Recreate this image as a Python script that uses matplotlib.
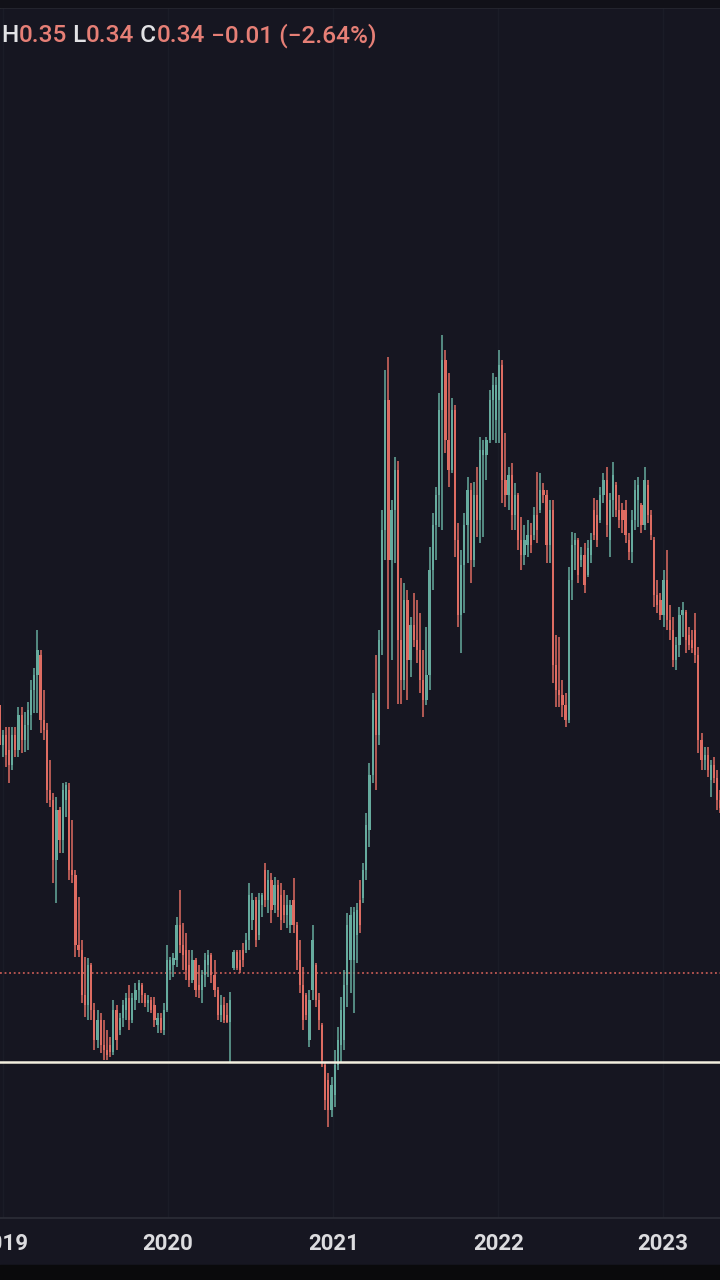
import matplotlib
matplotlib.use("Agg")
import matplotlib.pyplot as plt
import matplotlib.dates as mdates
import numpy as np
import pandas as pd

# ---------------- data (weekly OHLC) ----------------
start_week = "2018-12-24"

opens = [
    0.743, 0.683, 0.698, 0.675, 0.653, 0.698, 0.675, 0.728, 0.690, 0.713,
    0.728, 0.765, 0.788, 0.818, 0.720, 0.705, 0.615, 0.600, 0.510, 0.585,
    0.540, 0.600, 0.615, 0.495, 0.488, 0.383, 0.375, 0.308, 0.293, 0.353,
    0.285, 0.240, 0.270, 0.233, 0.225, 0.233, 0.222, 0.285, 0.255, 0.273,
    0.285, 0.303, 0.270, 0.300, 0.315, 0.323, 0.308, 0.296, 0.300, 0.293,
    0.263, 0.273, 0.255, 0.285, 0.345, 0.353, 0.360, 0.413, 0.383, 0.375,
    0.353, 0.330, 0.360, 0.323, 0.315, 0.338, 0.353, 0.368, 0.338, 0.315,
    0.278, 0.293, 0.278, 0.267, 0.348, 0.372, 0.360, 0.375, 0.375, 0.390,
    0.420, 0.450, 0.398, 0.443, 0.495, 0.450, 0.480, 0.443, 0.473, 0.458,
    0.443, 0.428, 0.413, 0.450, 0.413, 0.360, 0.323, 0.308, 0.240, 0.315,
    0.353, 0.300, 0.263, 0.203, 0.180, 0.135, 0.158, 0.203, 0.233, 0.240,
    0.323, 0.360, 0.360, 0.398, 0.450, 0.453, 0.495, 0.555, 0.638, 0.750,
    0.698, 0.840, 1.005, 1.200, 0.960, 1.035, 1.095, 0.840, 0.780, 0.900,
    0.810, 0.863, 0.840, 0.825, 0.780, 0.750, 0.788, 0.945, 1.013, 1.058,
    1.185, 1.260, 1.140, 1.095, 1.185, 0.990, 0.878, 0.953, 1.013, 1.065,
    0.960, 1.058, 1.020, 1.118, 1.118, 1.140, 1.200, 1.170, 1.200, 1.253,
    1.080, 1.058, 1.088, 1.028, 1.058, 0.990, 0.968, 0.983, 0.998, 0.998,
    1.028, 1.035, 1.065, 1.058, 0.983, 1.035, 0.803, 0.765, 0.758, 0.743,
    0.720, 0.930, 0.983, 0.990, 0.960, 0.968, 0.938, 0.968, 1.035, 1.028,
    1.020, 1.058, 1.080, 0.990, 1.050, 1.073, 1.035, 1.035, 1.035, 0.990,
    0.972, 1.020, 1.050, 1.043, 1.013, 1.073, 1.028, 0.990, 0.908, 0.900,
    0.878, 0.930, 0.870, 0.855, 0.810, 0.833, 0.878, 0.882, 0.848, 0.840,
    0.855, 0.818, 0.690, 0.660, 0.668, 0.630, 0.653, 0.633, 0.600,
]

highs = [
    0.750, 0.705, 0.710, 0.710, 0.710, 0.710, 0.740, 0.740, 0.732, 0.747,
    0.780, 0.798, 0.855, 0.825, 0.765, 0.716, 0.660, 0.611, 0.605, 0.590,
    0.626, 0.627, 0.626, 0.570, 0.495, 0.455, 0.390, 0.365, 0.363, 0.356,
    0.296, 0.285, 0.281, 0.270, 0.255, 0.245, 0.300, 0.293, 0.281, 0.300,
    0.311, 0.323, 0.311, 0.326, 0.330, 0.326, 0.311, 0.308, 0.305, 0.305,
    0.281, 0.281, 0.296, 0.383, 0.365, 0.371, 0.425, 0.465, 0.416, 0.401,
    0.375, 0.375, 0.363, 0.353, 0.345, 0.371, 0.375, 0.371, 0.360, 0.320,
    0.308, 0.305, 0.296, 0.312, 0.375, 0.375, 0.375, 0.386, 0.401, 0.476,
    0.461, 0.455, 0.461, 0.461, 0.506, 0.495, 0.491, 0.485, 0.480, 0.476,
    0.465, 0.458, 0.450, 0.483, 0.417, 0.390, 0.350, 0.311, 0.315, 0.413,
    0.356, 0.311, 0.266, 0.206, 0.191, 0.185, 0.225, 0.260, 0.305, 0.345,
    0.431, 0.440, 0.440, 0.446, 0.480, 0.506, 0.581, 0.656, 0.761, 0.818,
    0.855, 1.035, 1.245, 1.265, 1.050, 1.115, 1.109, 0.933, 0.926, 0.915,
    0.875, 0.911, 0.900, 0.881, 0.825, 0.860, 0.980, 1.031, 1.070, 1.211,
    1.298, 1.275, 1.241, 1.203, 1.193, 1.016, 0.975, 1.031, 1.085, 1.076,
    1.077, 1.100, 1.145, 1.140, 1.145, 1.215, 1.241, 1.235, 1.275, 1.260,
    1.151, 1.100, 1.106, 1.076, 1.061, 1.025, 1.013, 1.020, 1.016, 1.040,
    1.092, 1.091, 1.076, 1.065, 1.050, 1.050, 0.848, 0.845, 0.780, 0.761,
    0.950, 1.002, 1.001, 0.993, 0.980, 0.986, 0.990, 1.001, 1.053, 1.050,
    1.070, 1.091, 1.100, 1.061, 1.107, 1.077, 1.058, 1.046, 1.050, 1.001,
    1.035, 1.080, 1.085, 1.046, 1.100, 1.080, 1.035, 0.995, 0.930, 0.911,
    0.945, 0.975, 0.893, 0.875, 0.845, 0.890, 0.897, 0.885, 0.860, 0.855,
    0.881, 0.830, 0.701, 0.680, 0.680, 0.660, 0.665, 0.645, 0.615,
]

lows = [
    0.660, 0.665, 0.650, 0.626, 0.645, 0.665, 0.665, 0.671, 0.672, 0.675,
    0.705, 0.731, 0.731, 0.701, 0.690, 0.596, 0.590, 0.476, 0.446, 0.521,
    0.521, 0.575, 0.480, 0.476, 0.365, 0.365, 0.296, 0.275, 0.270, 0.270,
    0.225, 0.228, 0.221, 0.210, 0.210, 0.215, 0.218, 0.225, 0.248, 0.260,
    0.270, 0.255, 0.266, 0.285, 0.296, 0.296, 0.290, 0.282, 0.281, 0.260,
    0.251, 0.251, 0.248, 0.282, 0.330, 0.335, 0.350, 0.371, 0.345, 0.330,
    0.320, 0.326, 0.305, 0.303, 0.296, 0.320, 0.335, 0.326, 0.305, 0.270,
    0.267, 0.266, 0.266, 0.206, 0.345, 0.345, 0.341, 0.350, 0.371, 0.375,
    0.405, 0.380, 0.390, 0.425, 0.440, 0.431, 0.416, 0.431, 0.425, 0.405,
    0.416, 0.408, 0.401, 0.401, 0.345, 0.311, 0.255, 0.270, 0.230, 0.300,
    0.290, 0.255, 0.200, 0.135, 0.110, 0.125, 0.140, 0.195, 0.206, 0.225,
    0.290, 0.311, 0.281, 0.356, 0.401, 0.446, 0.480, 0.530, 0.626, 0.615,
    0.683, 0.818, 0.960, 0.737, 0.810, 0.956, 0.744, 0.744, 0.765, 0.750,
    0.785, 0.830, 0.806, 0.761, 0.725, 0.743, 0.765, 0.915, 0.960, 1.010,
    1.005, 1.121, 1.070, 1.091, 0.965, 0.860, 0.821, 0.881, 0.956, 0.926,
    0.950, 0.995, 0.986, 0.995, 1.080, 1.136, 1.140, 1.136, 1.136, 1.046,
    1.040, 1.035, 1.005, 1.005, 0.975, 0.945, 0.953, 0.965, 0.971, 0.990,
    0.986, 1.031, 1.046, 0.956, 0.956, 0.776, 0.740, 0.740, 0.725, 0.710,
    0.716, 0.900, 0.945, 0.926, 0.950, 0.911, 0.935, 0.956, 0.990, 0.980,
    1.016, 1.046, 0.995, 0.965, 1.025, 1.025, 1.008, 1.001, 0.986, 0.960,
    0.956, 1.005, 1.010, 1.001, 1.005, 1.016, 0.990, 0.890, 0.881, 0.870,
    0.860, 0.855, 0.840, 0.800, 0.795, 0.815, 0.845, 0.821, 0.825, 0.821,
    0.806, 0.671, 0.645, 0.645, 0.635, 0.605, 0.626, 0.585, 0.581,
]

closes = [
    0.683, 0.698, 0.668, 0.653, 0.698, 0.675, 0.728, 0.690, 0.713, 0.735,
    0.765, 0.788, 0.825, 0.720, 0.705, 0.615, 0.600, 0.510, 0.585, 0.540,
    0.615, 0.623, 0.495, 0.488, 0.383, 0.375, 0.308, 0.293, 0.353, 0.285,
    0.240, 0.270, 0.233, 0.225, 0.218, 0.222, 0.285, 0.240, 0.273, 0.293,
    0.303, 0.270, 0.303, 0.315, 0.326, 0.308, 0.296, 0.300, 0.285, 0.270,
    0.273, 0.255, 0.285, 0.360, 0.360, 0.363, 0.413, 0.383, 0.368, 0.345,
    0.330, 0.360, 0.315, 0.315, 0.338, 0.360, 0.368, 0.338, 0.315, 0.278,
    0.293, 0.270, 0.267, 0.300, 0.372, 0.348, 0.345, 0.360, 0.390, 0.458,
    0.450, 0.390, 0.450, 0.458, 0.450, 0.480, 0.435, 0.473, 0.435, 0.420,
    0.428, 0.443, 0.443, 0.413, 0.360, 0.323, 0.270, 0.278, 0.300, 0.390,
    0.300, 0.270, 0.210, 0.150, 0.135, 0.173, 0.203, 0.240, 0.285, 0.323,
    0.413, 0.428, 0.432, 0.435, 0.413, 0.495, 0.563, 0.638, 0.750, 0.698,
    0.840, 1.005, 1.200, 0.960, 1.035, 1.095, 0.840, 0.780, 0.900, 0.810,
    0.863, 0.840, 0.825, 0.780, 0.750, 0.788, 0.945, 1.013, 1.058, 1.185,
    1.260, 1.140, 1.095, 1.185, 0.990, 0.878, 0.953, 1.013, 1.065, 0.960,
    1.058, 1.020, 1.125, 1.125, 1.140, 1.200, 1.223, 1.223, 1.253, 1.080,
    1.058, 1.088, 1.028, 1.058, 0.990, 0.968, 0.990, 0.998, 0.983, 1.028,
    1.005, 1.065, 1.058, 0.983, 1.035, 0.803, 0.765, 0.758, 0.743, 0.720,
    0.930, 0.983, 0.990, 0.938, 0.968, 0.923, 0.978, 0.990, 0.998, 0.990,
    1.058, 1.080, 1.013, 1.050, 1.088, 1.035, 1.020, 1.020, 0.998, 0.972,
    1.020, 1.065, 1.073, 1.013, 1.080, 1.028, 0.998, 0.908, 0.893, 0.878,
    0.930, 0.870, 0.855, 0.810, 0.833, 0.878, 0.885, 0.840, 0.833, 0.828,
    0.818, 0.690, 0.660, 0.668, 0.645, 0.653, 0.633, 0.600, 0.588,
]

last_price = 0.34          # dotted last-price line
support_level = 0.207      # white horizontal line
header_labels = ["H", "L", "C"]
header_values = ["0.35", "0.34", "0.34"]
header_change = "\u22120.01 (\u22122.64%)"

# ---------------- style ----------------
BG = "#161621"
GREEN = "#66ab9e"
RED = "#de6c62"
TXT = "#dcdcdf"
LBL = "#e2e2e5"
VAL = "#e67f76"

W, H = 720, 1280
fig = plt.figure(figsize=(W / 100, H / 100), dpi=100, facecolor=BG)

# dark top strip and black bottom band
fig.patches.append(plt.Rectangle((0, 1 - 7 / H), 1, 7 / H, transform=fig.transFigure,
                                 color="#111118", zorder=0))
fig.patches.append(plt.Rectangle((0, 0), 1, 15 / H, transform=fig.transFigure,
                                 color="#0a0a0c", zorder=0))

ax_bottom = 1 - 1218 / H
ax_top = 1 - 8 / H
ax = fig.add_axes([0, ax_bottom, 1, ax_top - ax_bottom], facecolor=BG)

dates = pd.date_range(start_week, periods=len(closes), freq="W-MON")
x = mdates.date2num(dates)
o = np.array(opens); h = np.array(highs); l = np.array(lows); c = np.array(closes)
up = c >= o
cols = np.where(up, GREEN, RED)

top_v = np.maximum.reduce([o, h, l, c])
bot_v = np.minimum.reduce([o, h, l, c])
ax.vlines(x, bot_v, top_v, colors=cols, linewidth=1.1, zorder=3)
body_lo = np.minimum(o, c)
body_h = np.maximum(np.abs(c - o), 0.004)
ax.bar(x, body_h, bottom=body_lo, width=5.0, color=cols, linewidth=0, zorder=3)

# reference lines
ax.axhline(last_price, color="#e0655d", linewidth=1.1, linestyle=(0, (1.2, 1.8)), zorder=2)
ax.axhline(support_level, color="#f3efdf", linewidth=1.8, zorder=4)

# axis scaling (pixel layout of the reference)
px_per_day = 165 / 365.25
x2020 = mdates.date2num(pd.Timestamp("2020-01-01"))
ax.set_xlim(x2020 - 168 / px_per_day, x2020 + 552 / px_per_day)
ax.set_ylim(-0.027, 1.788)

ax.xaxis.set_major_locator(mdates.YearLocator())
ax.xaxis.set_major_formatter(mdates.DateFormatter("%Y"))
ax.tick_params(axis="x", length=0, pad=11, labelsize=16, labelcolor=TXT)
for lab in ax.get_xticklabels():
    lab.set_fontfamily("Roboto")
    lab.set_fontweight("bold")
ax.set_yticks([])
ax.grid(axis="x", color="#1b1c27", linewidth=1.0, zorder=0)
for s in ["left", "right"]:
    ax.spines[s].set_visible(False)
ax.spines["bottom"].set_color("#2c2d37")
ax.spines["bottom"].set_linewidth(1.2)
ax.spines["top"].set_color("#2c2d37")
ax.spines["top"].set_linewidth(1.2)

# header text
fig.canvas.draw()
renderer = fig.canvas.get_renderer()
pieces = []
for i, (lab, val) in enumerate(zip(header_labels, header_values)):
    pieces.append((("" if i == 0 else " ") + lab, LBL))
    pieces.append((val, VAL))
pieces.append((" " + header_change, VAL))
xpix = 1.0
ypos = 1 - 36 / H
for s, col in pieces:
    t = fig.text(xpix / W, ypos, s, color=col, fontsize=17.6, fontfamily="Roboto",
                 fontweight="medium", va="center", ha="left")
    bb = t.get_window_extent(renderer=renderer)
    xpix = bb.x1

fig.savefig("out.png", dpi=100, facecolor=BG)
